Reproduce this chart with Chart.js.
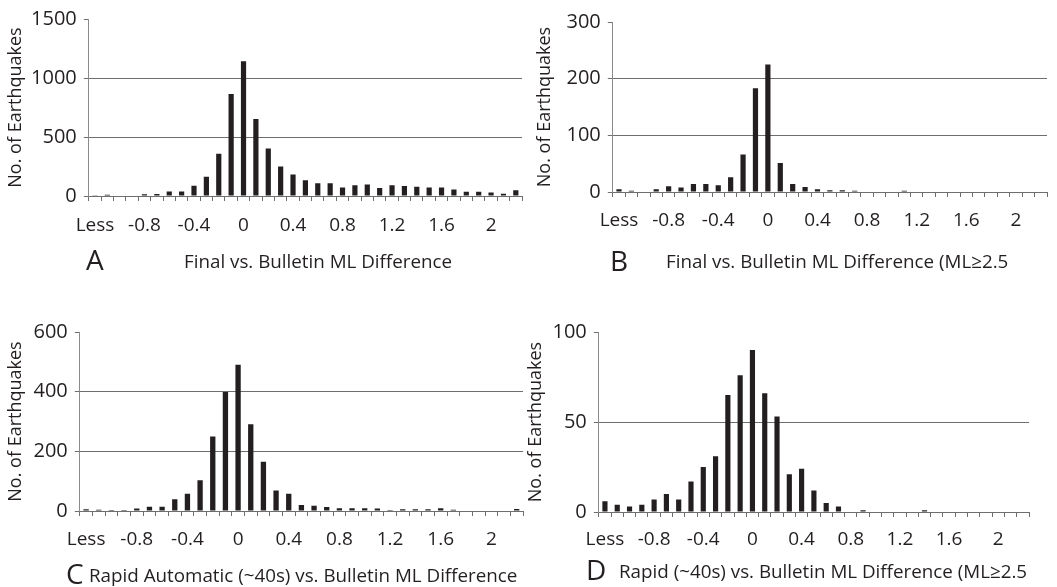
<!DOCTYPE html>
<html>
<head>
<meta charset="utf-8">
<script src="https://cdn.jsdelivr.net/npm/chart.js@4.4.1/dist/chart.umd.min.js"></script>
<style>
  html, body { margin: 0; padding: 0; background: #fff; }
  body { width: 1057px; height: 587px; position: relative; overflow: hidden; font-family: "Open Sans", sans-serif; color: #231f20; }
  canvas { position: absolute; }
  .lab { position: absolute; transform: translateY(-50%); white-space: nowrap; line-height: 1; }
  .letter { font-size: 28px; }
  .sub { font-size: 18.8px; }
</style>
</head>
<body>
<canvas id="cA"></canvas>
<canvas id="cB"></canvas>
<canvas id="cC"></canvas>
<canvas id="cD"></canvas>
<div class="lab letter" style="left:86px;top:259px;">A</div>
<div class="lab sub" style="left:184px;top:261px;">Final vs. Bulletin ML Difference</div>
<div class="lab letter" style="left:610px;top:260px;">B</div>
<div class="lab sub" style="left:666px;top:261px;">Final vs. Bulletin ML Difference (ML≥2.5</div>
<div class="lab letter" style="left:66px;top:573px;">C</div>
<div class="lab sub" style="left:89px;top:575px;">Rapid Automatic (~40s) vs. Bulletin ML Difference</div>
<div class="lab letter" style="left:586px;top:569px;">D</div>
<div class="lab sub" style="left:619px;top:571px;">Rapid (~40s) vs. Bulletin ML Difference (ML≥2.5</div>
<script>
// ---- data ----
const categories = ['Less','-1.1','-1','-0.9','-0.8','-0.7','-0.6','-0.5','-0.4','-0.3','-0.2','-0.1','0',
  '0.1','0.2','0.3','0.4','0.5','0.6','0.7','0.8','0.9','1','1.1','1.2','1.3','1.4','1.5','1.6','1.7','1.8','1.9','2','2.1','2.2'];
const tickLabels = ['Less','-0.8','-0.4','0','0.4','0.8','1.2','1.6','2'];
const finalAll = [3,10,0,5,15,18,38,38,87,163,359,864,1141,652,402,250,182,133,109,109,73,92,98,68,92,84,79,73,73,55,36,35,30,19,49];
const finalM25 = [5,2,0,5,10,8,14,14,12,26,66,183,225,51,14,9,5,3,3,2,0,1,1,2,1,0,1,1,0,0,0,0,0,0,0];
const rapidAll = [6,4,3,3,8,14,14,39,58,103,250,399,490,291,165,69,58,20,18,13,9,9,9,8,3,6,6,6,9,4,2,0,0,0,7];
const rapidM25 = [6,4,3,4,7,10,7,17,25,31,65,76,90,66,53,21,24,12,5,3,0,1,0,0,0,0,1,0,0,0,0,0,0,0,0];
const yMaxA = 1500, yStepA = 500;
const yMaxB = 300, yStepB = 100;
const yMaxC = 600, yStepC = 200;
const yMaxD = 100, yStepD = 50;

const INK = '#231f20';
const GRID = '#6d6e71';
const FONT = '"Open Sans", sans-serif';

function makeChart(id, values, yMax, yStep, box) {
  const pt = 12, pr = 8, xh = 52;
  const cv = document.getElementById(id);
  const canvasLeft = box.titleX - 14.8;
  const yw = box.L - canvasLeft;
  cv.width = Math.round(box.R - canvasLeft + pr);
  cv.height = Math.round(box.B - box.T + pt + xh);
  cv.style.left = canvasLeft + 'px';
  cv.style.top = (box.T - pt) + 'px';
  return new Chart(cv, {
    type: 'bar',
    data: {
      labels: categories,
      datasets: [{ data: values, backgroundColor: INK, borderWidth: 0,
        barPercentage: 0.42, categoryPercentage: 1.0 }]
    },
    options: {
      responsive: false,
      animation: false,
      devicePixelRatio: 1,
      layout: { padding: { top: pt, right: pr, left: 0, bottom: 0 } },
      plugins: { legend: { display: false }, tooltip: { enabled: false } },
      scales: {
        x: {
          afterFit: s => { s.height = xh; },
          grid: { display: true, drawOnChartArea: false, drawTicks: true, tickLength: 5,
            tickColor: GRID, offset: true },
          border: { display: true, color: GRID, width: 1 },
          ticks: {
            autoSkip: false, maxRotation: 0, minRotation: 0, padding: box.xpad,
            color: INK, font: { family: FONT, size: 19 },
            callback: function(v, i) {
              const lab = categories[i];
              return tickLabels.includes(lab) ? lab : '';
            }
          }
        },
        y: {
          min: 0, max: yMax,
          afterFit: s => { s.width = yw; },
          grid: { display: true, drawTicks: true, tickLength: 5, tickColor: GRID,
            color: c => (c.tick && c.tick.value === yMax) ? 'rgba(0,0,0,0)' : GRID, lineWidth: 1 },
          border: { display: true, color: '#8a8a8a', width: 1 },
          ticks: { stepSize: yStep, padding: 7, color: INK, font: { family: FONT, size: 20 },
            callback: v => String(v) },
          title: { display: true, text: 'No. of Earthquakes', color: INK,
            font: { family: FONT, size: 18 }, padding: { top: 4, bottom: 0 } }
        }
      }
    }
  });
}

makeChart('cA', finalAll, yMaxA, yStepA, { L: 89, R: 522, T: 12.3, B: 196.7, titleX: 16, xpad: 13.5 });
makeChart('cB', finalM25, yMaxB, yStepB, { L: 613, R: 1047, T: 14.7, B: 191.3, titleX: 545, xpad: 12.5 });
makeChart('cC', rapidAll, yMaxC, yStepC, { L: 80, R: 523, T: 325, B: 511.3, titleX: 16, xpad: 12.5 });
makeChart('cD', rapidM25, yMaxD, yStepD, { L: 599, R: 1029, T: 325, B: 512.3, titleX: 536, xpad: 11.5 });
</script>
</body>
</html>
